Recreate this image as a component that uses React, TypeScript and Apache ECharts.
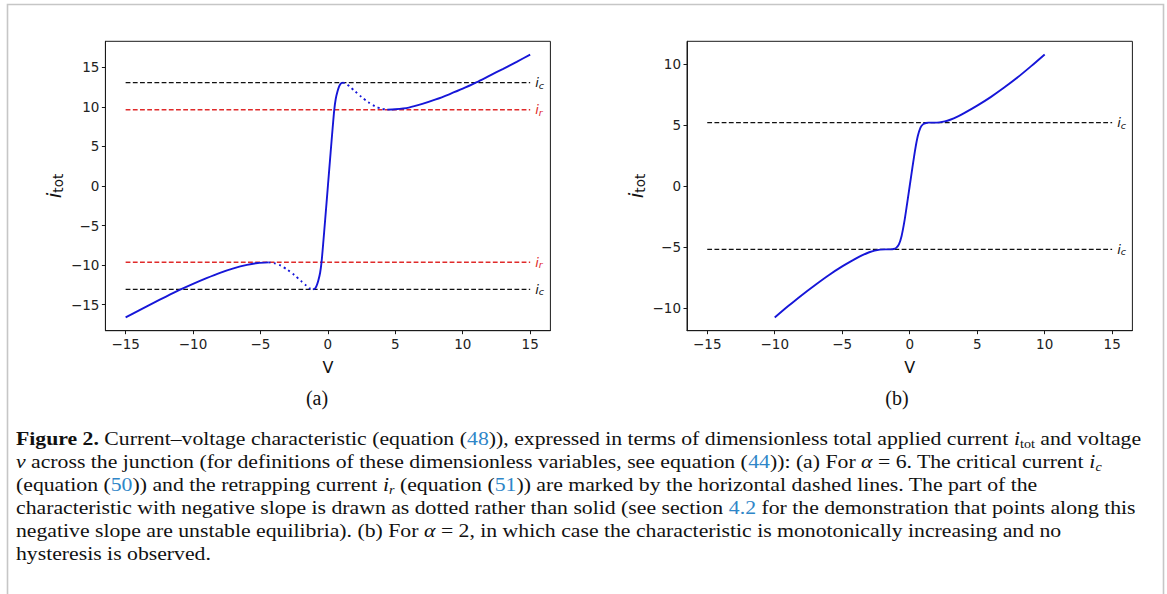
import React, { useEffect, useRef } from "react";
import * as echarts from "echarts";

// ---------- tick labels ----------
const xTicks = [-15, -10, -5, 0, 5, 10, 15];
const yTicksA = [-15, -10, -5, 0, 5, 10, 15];
const yTicksB = [-10, -5, 0, 5, 10];

// ---------- panel (a): alpha = 6 ----------
const aLowerSolid: [number, number][] = [
  [-15, -16.62], [-14, -15.72], [-13, -14.84], [-12, -13.98], [-11, -13.15],
  [-10, -12.38], [-9, -11.65], [-8, -10.98], [-7, -10.42], [-6, -9.98],
  [-5.2, -9.74], [-4.4, -9.66],
];
const aLowerDotted: [number, number][] = [
  [-4.4, -9.66], [-4, -9.76], [-3.5, -10.07], [-3, -10.6], [-2.5, -11.25],
  [-2, -12.0], [-1.6, -12.6], [-1.35, -12.95], [-1.1, -13.07],
];
const aSteep: [number, number][] = [
  [-1.1, -13.07], [-0.97, -12.98], [-0.85, -12.65], [-0.72, -12.0], [-0.58, -11.0],
  [-0.47, -9.6], [-0.35, -7.3], [-0.2, -4.2], [0, 0], [0.2, 4.2], [0.35, 7.3],
  [0.47, 9.6], [0.58, 11.0], [0.72, 12.0], [0.85, 12.65], [0.97, 12.98], [1.1, 13.07],
];
const aUpperDotted: [number, number][] = [
  [1.1, 13.07], [1.35, 12.95], [1.6, 12.6], [2, 12.0], [2.5, 11.25],
  [3, 10.6], [3.5, 10.07], [4, 9.76], [4.4, 9.66],
];
const aUpperSolid: [number, number][] = [
  [4.4, 9.66], [5, 9.7], [6, 9.92], [7, 10.38], [8, 10.95], [9, 11.6],
  [10, 12.3], [11, 13.1], [12, 13.96], [13, 14.82], [14, 15.7], [15, 16.62],
];
const icA = 13.07;
const irA = 9.64;

// ---------- panel (b): alpha = 2 ----------
const bCurve: [number, number][] = [
  [-10, -10.8], [-9, -9.86], [-8, -8.96], [-7, -8.12], [-6, -7.32], [-5, -6.6],
  [-4, -5.96], [-3.5, -5.67], [-3, -5.44], [-2.6, -5.3], [-2.2, -5.22], [-1.8, -5.2],
  [-1.4, -5.2], [-1.2, -5.17], [-1.0, -5.08], [-0.8, -4.8], [-0.6, -4.1], [-0.4, -2.95],
  [-0.2, -1.5], [0, 0], [0.2, 1.5], [0.4, 2.95], [0.6, 4.1], [0.8, 4.8], [1.0, 5.08],
  [1.2, 5.17], [1.4, 5.2], [1.8, 5.2], [2.2, 5.22], [2.6, 5.3], [3, 5.44], [3.5, 5.67],
  [4, 5.96], [5, 6.6], [6, 7.3], [7, 8.08], [8, 8.92], [9, 9.84], [10, 10.8],
];
const icB = 5.2;

const dashFrom = -15;
const dashTo = 15;

// ---------- caption ----------
const captionLines = [
  "{b|Figure 2.} Current\u2013voltage characteristic (equation ({l|48})), expressed in terms of dimensionless total applied current {i|i}{s|tot} and voltage",
  "{i|v} across the junction (for definitions of these dimensionless variables, see equation ({l|44})): (a) For {i|\u03b1} = 6. The critical current {i|i}{si|c}",
  "(equation ({l|50})) and the retrapping current {i|i}{si|r} (equation ({l|51})) are marked by the horizontal dashed lines. The part of the",
  "characteristic with negative slope is drawn as dotted rather than solid (see section {l|4.2} for the demonstration that points along this",
  "negative slope are unstable equilibria). (b) For {i|\u03b1} = 2, in which case the characteristic is monotonically increasing and no",
  "hysteresis is observed.",
];

const BLUE = "#1616d8";
const RED = "#e02a2a";
const AXC = "#1a1a1a";
const SANS = "DejaVu Sans";
const SERIF = "Liberation Serif";
const CAP_SIZE = 18.5;
const CAP_LH = 23;
const CAP_STRETCH = 1.175;

const tickFmt = (v: number) => (v < 0 ? "\u2212" + Math.abs(v) : String(v));

function xAx(grid: number) {
  return {
    type: "value",
    gridIndex: grid,
    min: -16.5,
    max: 16.5,
    axisLine: { show: true, onZero: false, lineStyle: { color: AXC, width: 1 } },
    axisTick: { show: true, inside: false, length: 3.5, customValues: xTicks, lineStyle: { color: AXC, width: 1 } },
    axisLabel: { show: true, customValues: xTicks, formatter: tickFmt, margin: 6, fontSize: 13.5, fontFamily: SANS, color: "#222" },
    splitLine: { show: false },
    name: "V",
    nameLocation: "middle",
    nameGap: 29,
    nameTextStyle: { fontSize: 16, fontFamily: SANS, color: "#111" },
  };
}

function yAx(grid: number, lim: number, ticks: number[]) {
  return {
    type: "value",
    gridIndex: grid,
    min: -lim,
    max: lim,
    axisLine: { show: true, onZero: false, lineStyle: { color: AXC, width: 1 } },
    axisTick: { show: true, inside: false, length: 3.5, customValues: ticks, lineStyle: { color: AXC, width: 1 } },
    axisLabel: { show: true, customValues: ticks, formatter: tickFmt, margin: 6, fontSize: 13.5, fontFamily: SANS, color: "#222" },
    splitLine: { show: false },
    name: "{i|i}{s|tot}",
    nameLocation: "middle",
    nameRotate: 90,
    nameGap: 40,
    nameTextStyle: {
      rich: {
        i: { fontFamily: SANS, fontStyle: "italic", fontSize: 20, color: "#111", lineHeight: 22 },
        s: { fontFamily: SANS, fontSize: 13.5, color: "#111", lineHeight: 10, verticalAlign: "bottom" },
      },
    },
  };
}

function curve(data: [number, number][], g: number, dotted: boolean) {
  return {
    type: "line",
    xAxisIndex: g,
    yAxisIndex: g,
    data,
    symbol: "none",
    showSymbol: false,
    smooth: 0.25,
    silent: true,
    z: 4,
    lineStyle: { color: BLUE, width: 1.9, type: dotted ? [2, 3.4] : "solid" },
  };
}

function hline(val: number, g: number, color: string, sub: string) {
  return {
    type: "line",
    xAxisIndex: g,
    yAxisIndex: g,
    data: [[dashFrom, val], [dashTo, val]],
    symbol: "none",
    showSymbol: false,
    silent: true,
    z: 3,
    lineStyle: { color, width: 1.35, type: [4.8, 2.4] },
    endLabel: {
      show: true,
      distance: 5,
      formatter: () => `{i|i}{s|${sub}}`,
      rich: {
        i: { fontFamily: SANS, fontStyle: "italic", fontSize: 13, color, lineHeight: 15 },
        s: { fontFamily: SANS, fontStyle: "italic", fontSize: 9.5, color, lineHeight: 8, verticalAlign: "bottom" },
      },
    },
  };
}

const capRich = {
  b: { fontFamily: SERIF, fontSize: CAP_SIZE, fontWeight: "bold", fill: "#111", color: "#111", lineHeight: CAP_LH },
  l: { fontFamily: SERIF, fontSize: CAP_SIZE, fill: "#2f86c8", color: "#2f86c8", lineHeight: CAP_LH },
  i: { fontFamily: SERIF, fontSize: CAP_SIZE, fontStyle: "italic", fill: "#111", color: "#111", lineHeight: CAP_LH },
  s: { fontFamily: SERIF, fontSize: 12, fill: "#111", color: "#111", lineHeight: 12, verticalAlign: "bottom" },
  si: { fontFamily: SERIF, fontSize: 12, fontStyle: "italic", fill: "#111", color: "#111", lineHeight: 12, verticalAlign: "bottom" },
};

const option = {
  animation: false,
  backgroundColor: "#ffffff",
  grid: [
    { left: 105.4, top: 41.3, width: 445, height: 289.4, show: true, borderColor: AXC, borderWidth: 1, backgroundColor: "transparent", containLabel: false },
    { left: 687, top: 41.3, width: 445.4, height: 289.4, show: true, borderColor: AXC, borderWidth: 1, backgroundColor: "transparent", containLabel: false },
  ],
  xAxis: [xAx(0), xAx(1)],
  yAxis: [yAx(0, 18.3, yTicksA), yAx(1, 11.88, yTicksB)],
  series: [
    hline(icA, 0, "#111", "c"),
    hline(irA, 0, RED, "r"),
    hline(-irA, 0, RED, "r"),
    hline(-icA, 0, "#111", "c"),
    curve(aLowerSolid, 0, false),
    curve(aLowerDotted, 0, true),
    curve(aSteep, 0, false),
    curve(aUpperDotted, 0, true),
    curve(aUpperSolid, 0, false),
    hline(icB, 1, "#111", "c"),
    hline(-icB, 1, "#111", "c"),
    curve(bCurve, 1, false),
  ],
  graphic: [
    {
      type: "rect",
      silent: true,
      shape: { x: 7.5, y: 4.5, width: 1156, height: 600 },
      style: { fill: "none", stroke: "#c6c6c6", lineWidth: 1.6 },
    },
    {
      type: "text",
      silent: true,
      x: 317,
      y: 398,
      style: { text: "(a)", fontFamily: SERIF, fontSize: 20, fill: "#111", textAlign: "center", textVerticalAlign: "middle", align: "center", verticalAlign: "middle" },
    },
    {
      type: "text",
      silent: true,
      x: 897,
      y: 398,
      style: { text: "(b)", fontFamily: SERIF, fontSize: 20, fill: "#111", textAlign: "center", textVerticalAlign: "middle", align: "center", verticalAlign: "middle" },
    },
    ...captionLines.map((t, k) => ({
      type: "text",
      silent: true,
      x: 16,
      y: 438.5 + k * CAP_LH,
      scaleX: CAP_STRETCH,
      style: {
        text: t,
        rich: capRich,
        fontFamily: SERIF,
        fontSize: CAP_SIZE,
        lineHeight: CAP_LH,
        fill: "#111",
        textAlign: "left",
        textVerticalAlign: "middle",
        align: "left",
        verticalAlign: "middle",
      },
    })),
  ],
};

export default function App() {
  const ref = useRef<HTMLDivElement>(null);
  useEffect(() => {
    if (!ref.current) return;
    const chart = echarts.init(ref.current, null, { renderer: "svg" });
    chart.setOption(option as any);
    return () => chart.dispose();
  }, []);
  return (
    <div
      ref={ref}
      style={{ position: "absolute", left: 0, top: 0, width: 1167, height: 594, background: "#fff" }}
    />
  );
}
